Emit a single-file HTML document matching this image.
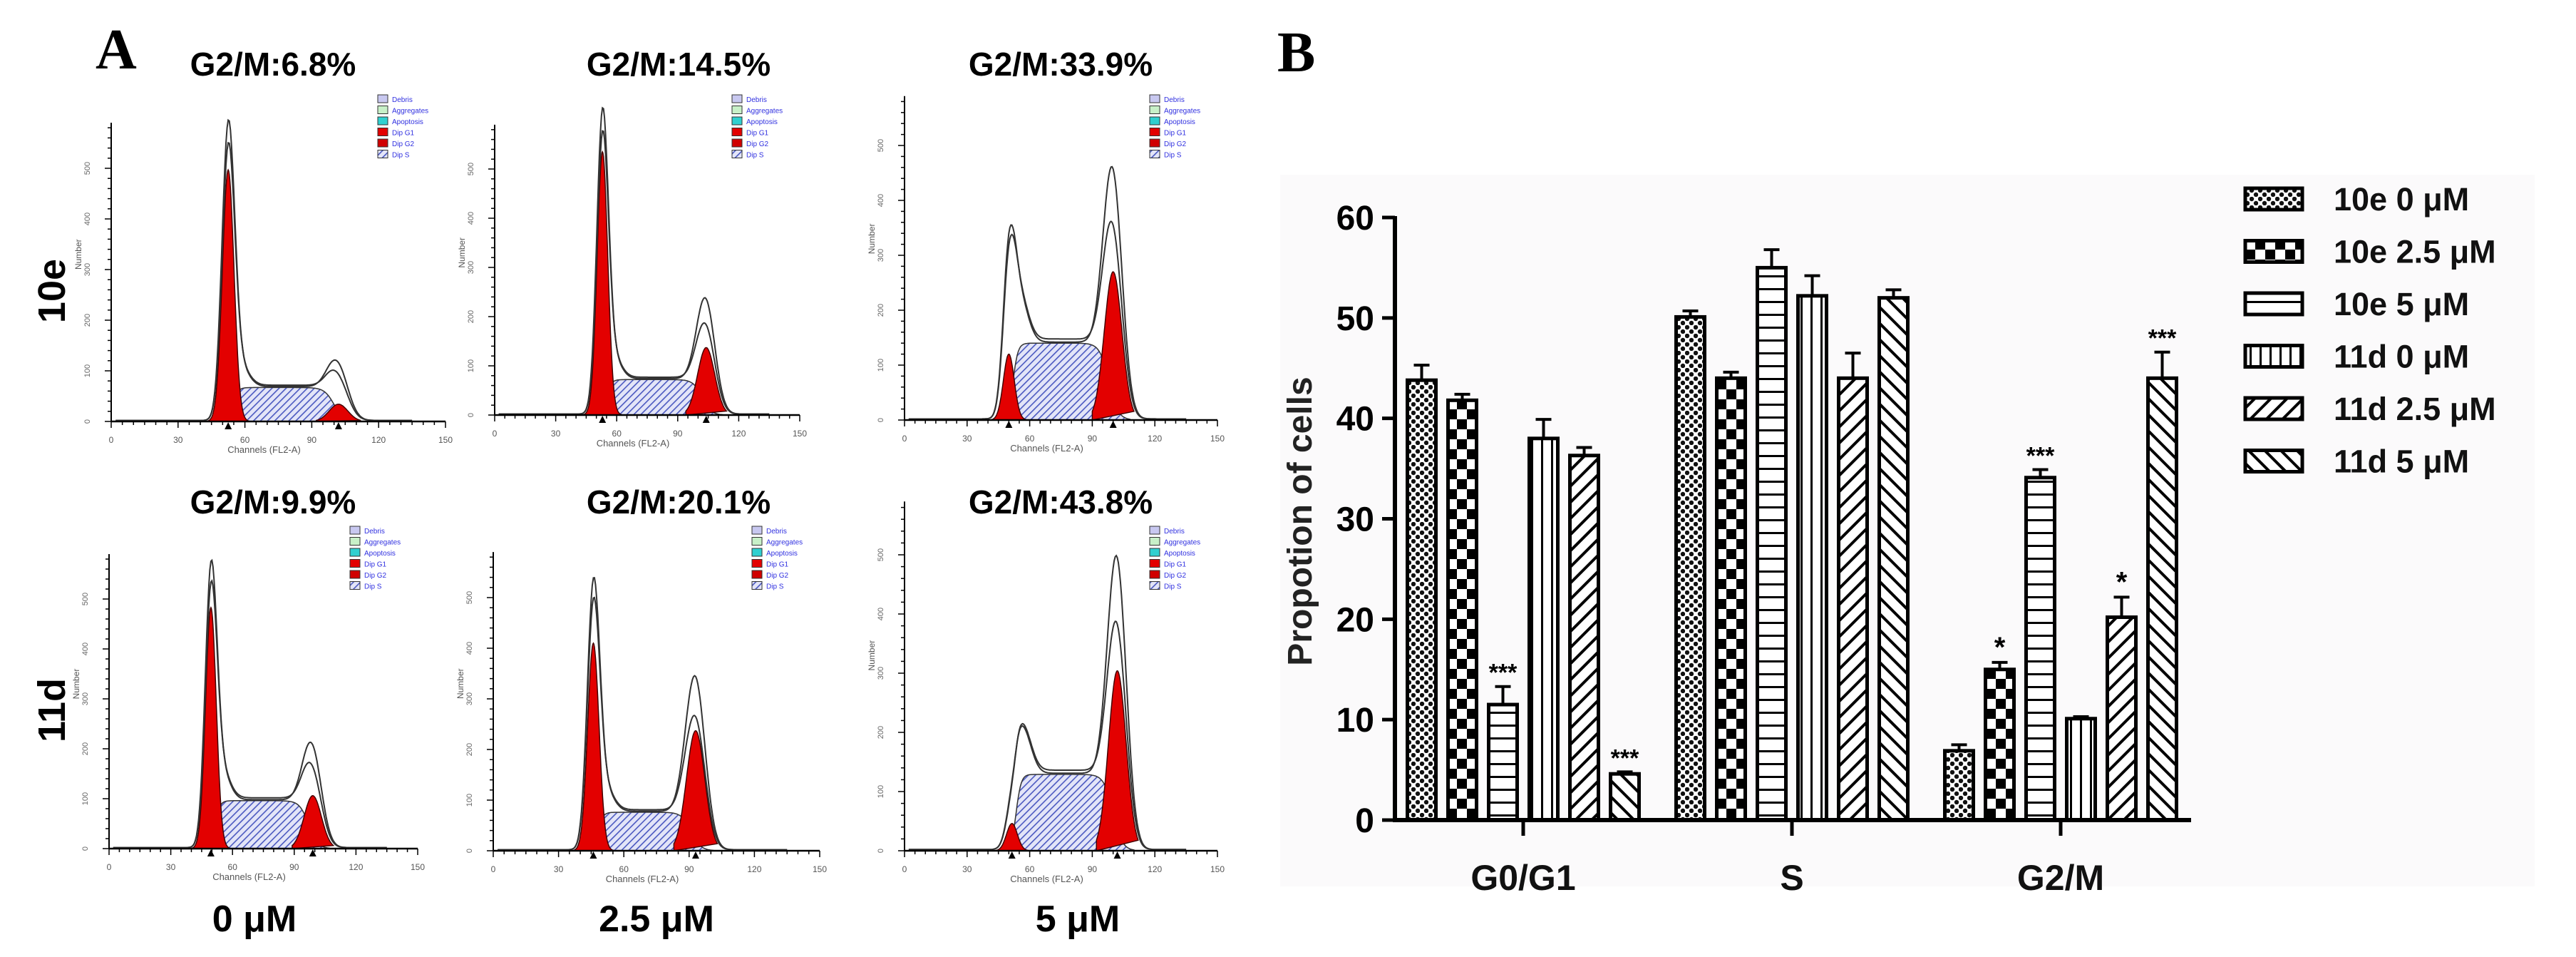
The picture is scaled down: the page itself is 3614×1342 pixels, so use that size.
<!DOCTYPE html>
<html><head><meta charset="utf-8">
<style>
html,body{margin:0;padding:0;background:#fff;}
svg{display:block;}
text{font-family:"Liberation Sans",sans-serif;}
</style></head>
<body>
<svg id="fig" xmlns="http://www.w3.org/2000/svg" width="3614" height="1342" viewBox="0 0 3614 1342">
<defs>
  <pattern id="pDots" width="12" height="12" patternUnits="userSpaceOnUse"><rect width="12" height="12" fill="#fff"/><circle cx="3" cy="3" r="3.2" fill="#111"/><circle cx="9" cy="9" r="3.2" fill="#111"/></pattern>
  <pattern id="pCheck" width="28" height="28" patternUnits="userSpaceOnUse"><rect width="28" height="28" fill="#fff"/><rect width="14" height="14" fill="#000"/><rect x="14" y="14" width="14" height="14" fill="#000"/></pattern>
  <pattern id="pHoriz" width="10" height="18" patternUnits="userSpaceOnUse"><rect width="10" height="18" fill="#fff"/><rect y="8" width="10" height="3" fill="#000"/></pattern>
  <pattern id="pVert" width="14" height="10" patternUnits="userSpaceOnUse"><rect width="14" height="10" fill="#fff"/><rect x="6" width="3" height="10" fill="#000"/></pattern>
  <pattern id="pFwd" width="16" height="16" patternUnits="userSpaceOnUse" patternTransform="rotate(45)"><rect width="16" height="16" fill="#fff"/><rect x="6" width="4" height="16" fill="#000"/></pattern>
  <pattern id="pBack" width="16" height="16" patternUnits="userSpaceOnUse" patternTransform="rotate(-45)"><rect width="16" height="16" fill="#fff"/><rect x="6" width="4" height="16" fill="#000"/></pattern>
  <pattern id="pS" width="7" height="7" patternUnits="userSpaceOnUse" patternTransform="rotate(45)"><rect width="7" height="7" fill="#e3e5f8"/><rect x="3" width="1.6" height="7" fill="#4a58c0"/></pattern>
</defs>
<rect x="1796" y="245" width="1760" height="998" fill="#fbfafb"/>
<text x="134" y="96" font-family="Liberation Serif" font-weight="bold" font-size="80" style="font-family:'Liberation Serif',serif">A</text>
<text x="1792" y="100" font-weight="bold" font-size="80" style="font-family:'Liberation Serif',serif">B</text>
<g id="histos"></g>
<g id="bars"></g>
</svg>
<script>
// ---------- Panel A data (flow cytometry histograms) ----------
const histTitles = ['G2/M:6.8%','G2/M:14.5%','G2/M:33.9%','G2/M:9.9%','G2/M:20.1%','G2/M:43.8%'];
const g1Channel = [52.5, 53, 50, 49.5, 46, 51.5];
const g1Height = [497, 535, 120, 483, 410, 46];
const g1Outer = [564, 591, 277, 532, 504, 60];
const sLevel = [67, 72, 140, 96, 76, 129];
const g2Channel = [102, 104, 100, 99, 93, 102];
const g2Height = [34, 137, 270, 106, 237, 304];
const g2Outer = [115, 235, 457, 207, 343, 495];
const rowLabels = ['10e','11d'];
const doseLabels = ['0 μM','2.5 μM','5 μM'];
const xTickLabels = ['0','30','60','90','120','150'];
const yTickLabels = ['0','100','200','300','400','500'];

// ---------- Panel B data (bar chart) ----------
const categories = ['G0/G1','S','G2/M'];
const seriesNames = ['10e 0 μM','10e 2.5 μM','10e 5 μM','11d 0 μM','11d 2.5 μM','11d 5 μM'];
const s10e0 = [43.8, 50.1, 6.9];
const s10e25 = [41.8, 44.0, 15.0];
const s10e5 = [11.5, 55.0, 34.1];
const s11d0 = [38.0, 52.2, 10.1];
const s11d25 = [36.3, 44.0, 20.2];
const s11d5 = [4.6, 52.0, 44.0];
const e10e0 = [1.5, 0.6, 0.6];
const e10e25 = [0.6, 0.6, 0.7];
const e10e5 = [1.8, 1.8, 0.8];
const e11d0 = [1.9, 2.0, 0.2];
const e11d25 = [0.8, 2.5, 2.0];
const e11d5 = [0.2, 0.8, 2.6];
const sig10e0 = ['','',''];
const sig10e25 = ['','','*'];
const sig10e5 = ['***','','***'];
const sig11d0 = ['','',''];
const sig11d25 = ['','','*'];
const sig11d5 = ['***','','***'];
const yTicks = [0,10,20,30,40,50,60];

const NS='http://www.w3.org/2000/svg';
function mk(tag, attrs, parent){const e=document.createElementNS(NS,tag);for(const k in attrs)e.setAttribute(k,attrs[k]);parent.appendChild(e);return e;}

// ---------- draw panel A ----------
const H = document.getElementById('histos');
const boxes = [ // layout: axis x0, x1, axis y, pixels per 100 counts
 {x0:156,x1:625,y0:591,k:71},{x0:694,x1:1122,y0:582,k:69},{x0:1269,x1:1708,y0:589,k:77},
 {x0:153,x1:586,y0:1190,k:70},{x0:692,x1:1150,y0:1193,k:71},{x0:1269,x1:1708,y0:1193,k:83}];
const titleX=[383,952,1488];
const gauss=(c,m,s,h)=>h*Math.exp(-((c-m)*(c-m))/(2*s*s));
const sig=(z)=>1/(1+Math.exp(-z));
for(let i=0;i<6;i++){
  const b=boxes[i], row=Math.floor(i/3), col=i%3;
  const g=mk('g',{},H);
  
  
  const X=c=>b.x0+(b.x1-b.x0)*c/150;
  const Y=v=>b.y0-v*b.k/100;
  const t=mk('text',{x:titleX[col],y:row?720:106,'text-anchor':'middle','font-weight':'bold','font-size':46},g);
  t.textContent=histTitles[i];
  
  
  const m1=g1Channel[i], m2=g2Channel[i];
  const sFun=c=>sLevel[i]*sig((c-m1-2)/1.2)*sig((m2-c-2)/2.2);
  // S hatched area
  let d='M'+X(m1-2)+','+b.y0;
  for(let c=m1-2;c<=m2+8;c+=0.5)d+=' L'+X(c).toFixed(1)+','+Y(sFun(c)).toFixed(1);
  d+=' L'+X(m2+8)+','+b.y0+' Z';
  const sp=mk('path',{d:d,fill:'url(#pS)',stroke:'#333','stroke-width':1.5},g);
  
  
  // G1 and G2 red peaks
  [[m1,2.6,g1Height[i],'g1-peak'],[m2,4.2,g2Height[i],'g2-peak']].forEach(p=>{
    let dd='M'+X(p[0]-10)+','+b.y0;
    for(let c=p[0]-10;c<=p[0]+10;c+=0.25)dd+=' L'+X(c).toFixed(1)+','+Y(gauss(c,p[0],p[1],p[2])).toFixed(1);
    dd+=' Z';
    const rp=mk('path',{d:dd,fill:'#e30000',stroke:'#400','stroke-width':1.5},g);
    
    
  });
  // outer envelope lines
  [0,1].forEach(v=>{
    let dd='';
    for(let c=2;c<=135;c+=0.5){
      const val=gauss(c,m1,2.8,g1Outer[i]*(v?0.92:1))+sFun(c)*(1+0.04*v)+gauss(c,m2,4.4,(g2Outer[i]-sLevel[i]*0.3)*(v?0.75:1))+gauss(c,m1+5,4,sLevel[i]*0.6)+2;
      dd+=(dd?' L':'M')+X(c).toFixed(1)+','+Y(val).toFixed(1);
    }
    const op=mk('path',{d:dd,fill:'none',stroke:'#333','stroke-width':2},g);
    
    
  });
  // axes
  mk('line',{x1:b.x0,y1:b.y0,x2:b.x1,y2:b.y0,stroke:'#000','stroke-width':2.5},g);
  mk('line',{x1:b.x0,y1:b.y0,x2:b.x0,y2:Y(590),stroke:'#000','stroke-width':2},g);
  for(let c=0;c<=150;c+=5){mk('line',{x1:X(c),y1:b.y0,x2:X(c),y2:b.y0+(c%30?5:9),stroke:'#000','stroke-width':1.5},g);}
  xTickLabels.forEach((l,j)=>{const tt=mk('text',{x:X(j*30),y:b.y0+30,'text-anchor':'middle','font-size':12,fill:'#555'},g);tt.textContent=l;});
  for(let v=0;v<=580;v+=20){mk('line',{x1:b.x0-(v%100?5:9),y1:Y(v),x2:b.x0,y2:Y(v),stroke:'#000','stroke-width':1.5},g);}
  yTickLabels.forEach((l,j)=>{const tt=mk('text',{x:b.x0-30,y:Y(j*100),'text-anchor':'middle','font-size':11,fill:'#666',transform:'rotate(-90 '+(b.x0-30)+' '+Y(j*100)+')'},g);tt.textContent=l;});
  const xl=mk('text',{x:(b.x0+b.x1)/2-20,y:b.y0+44,'text-anchor':'middle','font-size':13,fill:'#555'},g);xl.textContent='Channels (FL2-A)';
  const yl=mk('text',{x:b.x0-42,y:Y(330),'text-anchor':'middle','font-size':12,fill:'#555',transform:'rotate(-90 '+(b.x0-42)+' '+Y(330)+')'},g);yl.textContent='Number';
  // markers
  [m1,m2].forEach(c=>mk('path',{d:'M'+(X(c)-5)+','+(b.y0+11)+' L'+X(c)+','+(b.y0+1)+' L'+(X(c)+5)+','+(b.y0+11)+'Z',fill:'#000'},g));
  // mini legend
  const lg=mk('g',{},g);
  
  
  const names=['Debris','Aggregates','Apoptosis','Dip G1','Dip G2','Dip S'];
  const cols=['#c8c8f0','#c8f0c8','#30d0d0','#e30000','#d00000','url(#pS)'];
  const lx=b.x1-95, ly=row?738:133;
  names.forEach((n,j)=>{mk('rect',{x:lx,y:ly+j*15.5,width:14,height:11,fill:cols[j],stroke:'#333','stroke-width':1},lg);const tt=mk('text',{x:lx+20,y:ly+j*15.5+10,'font-size':10,fill:'#3030e0'},lg);tt.textContent=n;});
}
rowLabels.forEach((l,r)=>{const tt=mk('text',{x:73,y:r?996:408,'text-anchor':'middle','font-weight':'bold','font-size':54,transform:'rotate(-90 73 '+(r?996:408)+')','dominant-baseline':'central'},H);tt.textContent=l;
  
  });
doseLabels.forEach((l,c)=>{const tt=mk('text',{x:[357,921,1512][c],y:1306,'text-anchor':'middle','font-weight':'bold','font-size':52},H);tt.textContent=l;
  
  });

// ---------- draw panel B ----------
const B=document.getElementById('bars');
const AX0=1957, AXY=1150, AXR=3074, CAT0=2137, CATD=377, BW=40, BP=57;
const yS=v=>AXY-v*(AXY-305)/60;
const xC=i=>CAT0+i*CATD;
const series=[s10e0,s10e25,s10e5,s11d0,s11d25,s11d5];
const errs=[e10e0,e10e25,e10e5,e11d0,e11d25,e11d5];
const sigs=[sig10e0,sig10e25,sig10e5,sig11d0,sig11d25,sig11d5];
const pats=['pDots','pCheck','pHoriz','pVert','pFwd','pBack'];
series.forEach((vals,j)=>{
  vals.forEach((v,i)=>{
    const cx=xC(i)+(j-2.5)*BP, top=yS(v), et=yS(v+errs[j][i]);
    const g=mk('g',{},B);
    
    
    mk('line',{x1:cx,y1:top,x2:cx,y2:et,stroke:'#000','stroke-width':4},g);
    mk('line',{x1:cx-11,y1:et,x2:cx+11,y2:et,stroke:'#000','stroke-width':4},g);
    mk('rect',{x:cx-BW/2,y:top,width:BW,height:AXY-top,fill:'url(#'+pats[j]+')',stroke:'#000','stroke-width':5},g);
    if(sigs[j][i]){const tt=mk('text',{x:cx,y:et-8,'text-anchor':'middle','font-weight':'bold','font-size':sigs[j][i].length>1?34:40},g);tt.textContent=sigs[j][i];}
  });
});
const ax=mk('g',{},B);


mk('line',{x1:AX0,y1:yS(60)-2,x2:AX0,y2:AXY+3,stroke:'#000','stroke-width':6},ax);
yTicks.forEach(v=>{mk('line',{x1:AX0-18,y1:yS(v),x2:AX0,y2:yS(v),stroke:'#000','stroke-width':5},ax);
  const tt=mk('text',{x:1928,y:yS(v)+17,'text-anchor':'end','font-weight':'bold','font-size':48},ax);tt.textContent=v;});
const yt=mk('text',{x:1840,y:731,'text-anchor':'middle','font-size':48,'font-weight':'bold','fill':'#222',transform:'rotate(-90 1840 731)'},ax);
yt.textContent='Propotion of cells';


const xa=mk('g',{},B);


mk('line',{x1:AX0,y1:AXY,x2:AXR,y2:AXY,stroke:'#000','stroke-width':6},xa);
categories.forEach((c,i)=>{mk('line',{x1:xC(i),y1:AXY,x2:xC(i),y2:AXY+22,stroke:'#000','stroke-width':5},xa);
  const tt=mk('text',{x:xC(i),y:1248,'text-anchor':'middle','font-size':50,'font-weight':'bold','fill':'#111'},xa);tt.textContent=c;
  
  });
seriesNames.forEach((n,j)=>{
  const g=mk('g',{},B);
  
  
  const y=279+j*73.5;
  mk('rect',{x:3150,y:y-15,width:80,height:30,fill:'url(#'+pats[j]+')',stroke:'#000','stroke-width':5},g);
  const tt=mk('text',{x:3274,y:y+16,'font-size':45,'font-weight':'bold','fill':'#111'},g);tt.textContent=n;
});
</script>
</body></html>
